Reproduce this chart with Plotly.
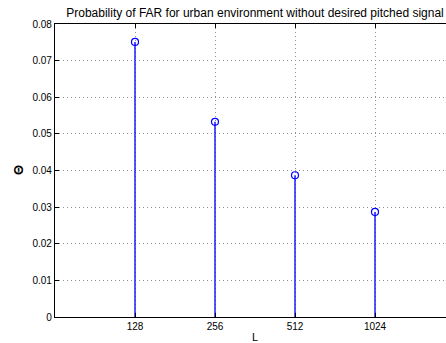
import plotly.graph_objects as go

categories = ["128", "256", "512", "1024"]
positions = [1, 2, 3, 4]
values = [0.0751, 0.0533, 0.0387, 0.0287]
y_ticks = [0, 0.01, 0.02, 0.03, 0.04, 0.05, 0.06, 0.07, 0.08]
y_tick_labels = ["0", "0.01", "0.02", "0.03", "0.04", "0.05", "0.06", "0.07", "0.08"]

stem_x, stem_y = [], []
for p, v in zip(positions, values):
    stem_x += [p, p, None]
    stem_y += [0, v, None]

fig = go.Figure()
fig.add_trace(go.Scatter(x=stem_x, y=stem_y, mode="lines",
                         line=dict(color="#1a1aff", width=1.5), hoverinfo="skip",
                         showlegend=False))
fig.add_trace(go.Scatter(x=positions, y=values, mode="markers",
                         marker=dict(symbol="circle-open", size=7, color="#0000ff",
                                     line=dict(width=1.2, color="#0000ff")),
                         showlegend=False))

fig.update_layout(
    width=446, height=343,
    margin=dict(l=55, r=0, t=24, b=26),
    paper_bgcolor="white", plot_bgcolor="white",
    font=dict(family="Liberation Sans, Arial, sans-serif", size=10, color="black"),
    title=dict(text="Probability of FAR for urban environment without desired pitched signal",
               x=(55 + 455) / 2 / 446, xanchor="center", y=1 - 13 / 343, yanchor="middle",
               yref="container", xref="container",
               font=dict(size=12, color="black")),
)
fig.update_xaxes(range=[0, 4.8875], tickvals=positions, ticktext=categories,
                 showgrid=True, gridcolor="#909090", griddash="1px,3px", gridwidth=1,
                 showline=True, linecolor="black", linewidth=1.2, mirror="ticks",
                 ticks="inside", ticklen=4, tickcolor="black", zeroline=False,
                 tickfont=dict(size=10), automargin=False)
fig.update_yaxes(range=[0, 0.08], tickvals=y_ticks, ticktext=y_tick_labels,
                 showgrid=True, gridcolor="#909090", griddash="1px,3px", gridwidth=1,
                 showline=True, linecolor="black", linewidth=1.2, mirror=False,
                 ticks="inside", ticklen=4, tickcolor="black", zeroline=False,
                 tickfont=dict(size=10), automargin=False)

fig.add_annotation(text="L", xref="paper", yref="paper", x=(255 - 55) / 391, y=-28 / 293,
                   showarrow=False, font=dict(size=11), xanchor="center", yanchor="bottom")
fig.add_annotation(text="<b>Θ</b>", xref="paper", yref="paper", x=-37 / 391, y=(317 - 170) / 293,
                   showarrow=False, font=dict(size=13), textangle=-90,
                   xanchor="center", yanchor="middle")

fig.write_html("out.html")
